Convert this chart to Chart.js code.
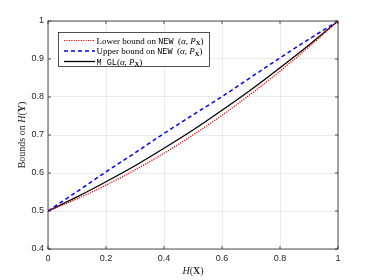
<!DOCTYPE html>
<html>
<head>
<meta charset="utf-8">
<script src="https://cdn.jsdelivr.net/npm/chart.js@4"></script>
<style>
  html, body { margin: 0; padding: 0; background: #fff; }
  #wrap { width: 374px; height: 280px; }
</style>
</head>
<body>
<div id="wrap"><canvas id="myChart" width="374" height="280"></canvas></div>
<script>
// values
const hx = [0, 0.1, 0.2, 0.3, 0.4, 0.5, 0.6, 0.7, 0.8, 0.9, 1];
const lowerNew = [0.5, 0.532, 0.568, 0.608, 0.652, 0.7, 0.752, 0.808, 0.868, 0.932, 1];
const upperNew = [0.5, 0.551, 0.603, 0.653, 0.704, 0.753, 0.801, 0.852, 0.903, 0.952, 1];
const mgl = [0.5, 0.537, 0.577, 0.619, 0.665, 0.713, 0.765, 0.819, 0.877, 0.937, 1];
const xTicks = [0, 0.2, 0.4, 0.6, 0.8, 1];
const yTicks = [0.4, 0.5, 0.6, 0.7, 0.8, 0.9, 1];

const axisCol = "#262626";
const serif = '"Liberation Serif", "DejaVu Serif", serif';
const mono = '"Liberation Mono", "DejaVu Sans Mono", monospace';

function pts(arr) {
  return hx.map((x, i) => ({ x: x, y: arr[i] }));
}

// draws a row of text pieces with different fonts
function drawRuns(c, runs, x, y, align) {
  let w = 0;
  runs.forEach(r => { c.font = r.f; w += c.measureText(r.t).width; });
  let cx = align === "center" ? x - w / 2 : x;
  c.textBaseline = "alphabetic";
  c.textAlign = "left";
  runs.forEach(r => {
    c.font = r.f;
    c.fillText(r.t, cx, y + (r.dy || 0));
    cx += c.measureText(r.t).width;
  });
}

// the "(α, P_X)" part
function argRuns(open) {
  return [
    { t: open, f: "9px " + serif },
    { t: "α", f: "italic 9px " + serif },
    { t: ", ", f: "9px " + serif },
    { t: "P", f: "italic 9px " + serif },
    { t: "X", f: "bold 6.5px " + serif, dy: 1.5 },
    { t: ")", f: "9px " + serif }
  ];
}

const legendRows = [
  { color: "#ff0000", dash: [1.2, 1.2], width: 1.2,
    runs: [{ t: "Lower bound on ", f: "9px " + serif }, { t: "NEW", f: "8.5px " + mono }].concat(argRuns("  (")) },
  { color: "#0000ff", dash: [4, 3], width: 1.5,
    runs: [{ t: "Upper bound on ", f: "9px " + serif }, { t: "NEW", f: "8.5px " + mono }].concat(argRuns("  (")) },
  { color: "#000000", dash: [], width: 1.3,
    runs: [{ t: "M GL", f: "8.5px " + mono }].concat(argRuns("(")) }
];

const decor = {
  id: "decor",
  afterDraw(chart) {
    const c = chart.ctx;
    const a = chart.chartArea;
    const xs = chart.scales.x, ys = chart.scales.y;
    c.save();
    // box
    c.strokeStyle = axisCol;
    c.lineWidth = 0.8;
    c.setLineDash([]);
    c.strokeRect(a.left, a.top, a.right - a.left, a.bottom - a.top);
    // inner tick marks
    c.beginPath();
    xTicks.forEach(v => {
      const px = xs.getPixelForValue(v);
      c.moveTo(px, a.bottom); c.lineTo(px, a.bottom - 3);
      c.moveTo(px, a.top); c.lineTo(px, a.top + 3);
    });
    yTicks.forEach(v => {
      const py = ys.getPixelForValue(v);
      c.moveTo(a.left, py); c.lineTo(a.left + 3, py);
      c.moveTo(a.right, py); c.lineTo(a.right - 3, py);
    });
    c.stroke();

    // axis titles
    c.fillStyle = axisCol;
    drawRuns(c, [
      { t: "H", f: "italic 10px " + serif },
      { t: "(", f: "10px " + serif },
      { t: "X", f: "bold 10px " + serif },
      { t: ")", f: "10px " + serif }
    ], (a.left + a.right) / 2, 274, "center");
    c.save();
    c.translate(25, (a.top + a.bottom) / 2);
    c.rotate(-Math.PI / 2);
    drawRuns(c, [
      { t: "Bounds on ", f: "10px " + serif },
      { t: "H", f: "italic 10px " + serif },
      { t: "(", f: "10px " + serif },
      { t: "Y", f: "bold 10px " + serif },
      { t: ")", f: "10px " + serif }
    ], 0, 0, "center");
    c.restore();

    // legend
    const lx = 58, ly = 32, lw = 151, lh = 34;
    c.fillStyle = "#ffffff";
    c.fillRect(lx, ly, lw, lh);
    c.strokeStyle = axisCol;
    c.lineWidth = 0.8;
    c.strokeRect(lx + 0.5, ly + 0.5, lw, lh);
    legendRows.forEach((r, i) => {
      const yy = 40.5 + i * 10.5;
      c.beginPath();
      c.strokeStyle = r.color;
      c.lineWidth = r.width;
      c.setLineDash(r.dash);
      c.moveTo(64, yy); c.lineTo(95, yy);
      c.stroke();
      c.setLineDash([]);
      c.fillStyle = "#000000";
      drawRuns(c, r.runs, 96.5, yy + 3, "left");
    });
    c.restore();
  }
};

const ctx = document.getElementById("myChart");

const myChart = new Chart(ctx, {
  type: "line",
  data: {
    datasets: [
      {
        label: "Lower bound on NEW",
        data: pts(lowerNew),
        borderColor: "#ff0000",
        borderWidth: 1.3,
        borderDash: [1.2, 1.2],
        pointRadius: 0,
        cubicInterpolationMode: "monotone",
      },
      {
        label: "Upper bound on NEW",
        data: pts(upperNew),
        borderColor: "#0000ff",
        borderWidth: 1.5,
        borderDash: [4, 3],
        pointRadius: 0,
        cubicInterpolationMode: "monotone",
      },
      {
        label: "MGL",
        data: pts(mgl),
        borderColor: "#000000",
        borderWidth: 1.3,
        pointRadius: 0,
        cubicInterpolationMode: "monotone",
      },
    ],
  },
  options: {
    responsive: false,
    animation: false,
    devicePixelRatio: 1,
    layout: {
      padding: { left: 0, right: 36, top: 21, bottom: 0 },
    },
    plugins: {
      legend: false,
      tooltip: { enabled: false },
    },
    scales: {
      x: {
        type: "linear",
        min: 0,
        max: 1,
        afterBuildTicks: s => { s.ticks = xTicks.map(v => ({ value: v })); },
        afterFit: s => { s.height = 31; },
        grid: { color: "#e6e6e6", lineWidth: 0.8, drawTicks: false },
        border: { display: false },
        ticks: {
          padding: 4,
          color: axisCol,
          font: { family: '"Liberation Sans", Arial, sans-serif', size: 9 },
          callback: v => String(Number(v.toFixed(1))),
          maxRotation: 0,
        },
      },
      y: {
        type: "linear",
        min: 0.4,
        max: 1,
        afterBuildTicks: s => { s.ticks = yTicks.map(v => ({ value: v })); },
        afterFit: s => { s.width = 48; },
        grid: { color: "#e6e6e6", lineWidth: 0.8, drawTicks: false },
        border: { display: false },
        ticks: {
          padding: 4,
          color: axisCol,
          font: { family: '"Liberation Sans", Arial, sans-serif', size: 9 },
          callback: v => String(Number(v.toFixed(1))),
        },
      },
    },
  },
  plugins: [decor],
});
</script>
</body>
</html>
